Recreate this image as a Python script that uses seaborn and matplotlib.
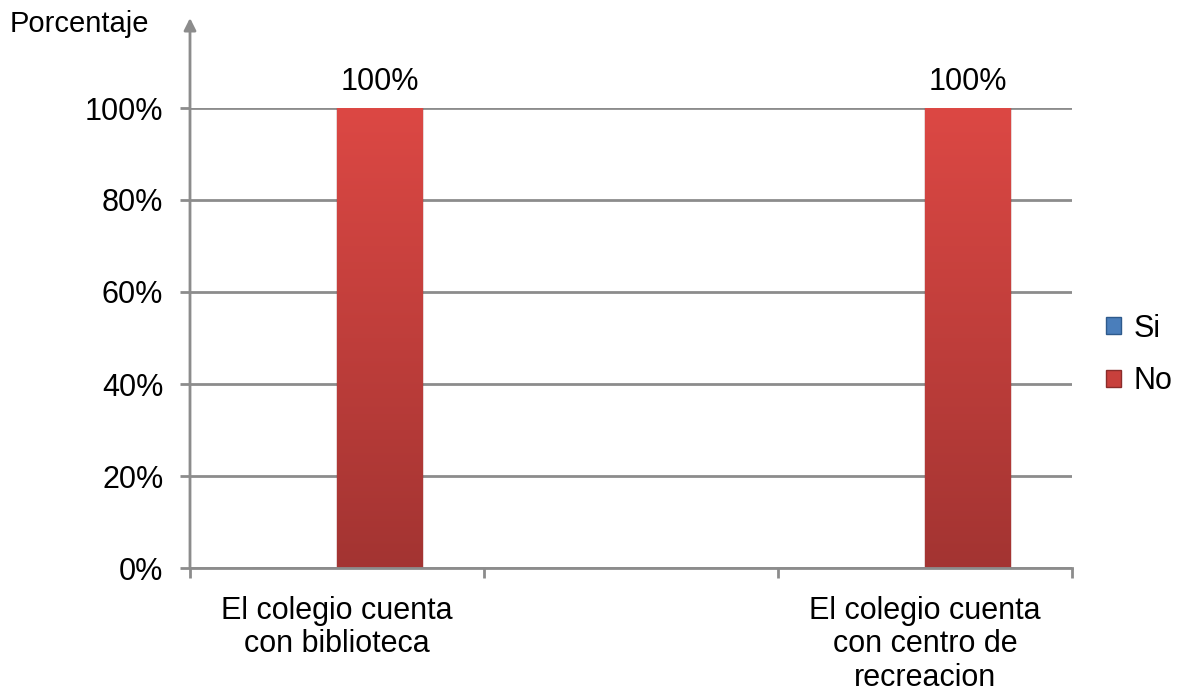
import numpy as np
import pandas as pd
import matplotlib
matplotlib.use("Agg")
import matplotlib.pyplot as plt
import seaborn as sns
from matplotlib.colors import LinearSegmentedColormap

# ---- data ----
categories = ["El colegio cuenta\ncon biblioteca", " ", "El colegio cuenta\ncon centro de\nrecreacion"]
series = ["Si", "No"]
si_values = [0, np.nan, 0]
no_values = [100, np.nan, 100]
yticks = [0, 20, 40, 60, 80, 100]
ytick_labels = ["0%", "20%", "40%", "60%", "80%", "100%"]

sns.set_theme(style="white")
plt.rcParams['font.family'] = ['Liberation Sans', 'DejaVu Sans']
plt.rcParams['text.color'] = 'black'
plt.rcParams['xtick.labelcolor'] = 'black'
plt.rcParams['ytick.labelcolor'] = 'black'

df = pd.DataFrame({
    "cat": categories * 2,
    "serie": ["Si"] * len(categories) + ["No"] * len(categories),
    "val": si_values + no_values,
})

W, H = 1185, 697
fig = plt.figure(figsize=(W / 100, H / 100), dpi=100)
ax = fig.add_axes([190 / W, 1 - 568 / H, (1072 - 190) / W, 460 / H])

GRAY = "#8C8C8C"
sns.barplot(data=df, x="cat", y="val", hue="serie", order=categories,
            hue_order=series, palette=["#4A7EBB", "#C8403C"], width=0.58,
            saturation=1, errorbar=None, ax=ax, legend=True, linewidth=1)

edge_colors = ["#2E5A8C", "#8A2C2A"]
for cont, ec in zip(ax.containers, edge_colors):
    for p in cont:
        p.set_edgecolor(ec)

ax.set_xlim(-0.5, len(categories) - 0.5)
ax.set_ylim(0, 100)
ax.set_axisbelow(True)

# gradient fill on bars
cmap_red = LinearSegmentedColormap.from_list("r", ["#A33432", "#DC4844"])
grad = np.linspace(0, 1, 256).reshape(-1, 1)
for p in ax.containers[1]:
    h = p.get_height()
    if h and h > 0:
        x0, w = p.get_x(), p.get_width()
        im = ax.imshow(grad, extent=[x0, x0 + w, 0, h], origin="lower",
                       cmap=cmap_red, aspect="auto", zorder=p.get_zorder() + 0.1)
        im.set_clip_path(p)
ax.set_xlim(-0.5, len(categories) - 0.5)
ax.set_ylim(0, 100)

ax.bar_label(ax.containers[1], fmt="%.0f%%", padding=8, fontsize=22, color="black")

# y axis
ax.set_yticks(yticks)
ax.set_yticklabels(ytick_labels, fontsize=22)
ax.yaxis.grid(True, color=GRAY, lw=2)
ax.tick_params(axis="y", left=True, length=7.2, width=2, color=GRAY, pad=12)

# x axis
ax.set_xticks(range(len(categories)))
ax.set_xticklabels(categories, fontsize=22, linespacing=1.15)
ax.set_xticks([i - 0.5 for i in range(len(categories) + 1)], minor=True)
ax.tick_params(axis="x", which="major", length=0, pad=20)
ax.tick_params(axis="x", which="minor", bottom=True, length=7.2, width=2, color=GRAY)
ax.set_xlabel("")
ax.set_ylabel("")

for s in ["top", "right", "left"]:
    ax.spines[s].set_visible(False)
ax.spines["bottom"].set_color(GRAY)
ax.spines["bottom"].set_linewidth(2)

# y-axis arrow
ax.annotate("", xy=(0, (568 - 18) / 460), xycoords="axes fraction",
            xytext=(0, 0), textcoords="axes fraction",
            arrowprops=dict(arrowstyle="-|>", color=GRAY, lw=2,
                            mutation_scale=18, shrinkA=0, shrinkB=0),
            annotation_clip=False)

fig.text(10 / W, 1 - 24 / H, "Porcentaje", ha="left", va="center", fontsize=21)

handles, labels = ax.get_legend_handles_labels()
for hnd, ec in zip(handles, edge_colors):
    hnd.set_edgecolor(ec)
ax.legend(handles, labels, loc="center left",
          bbox_to_anchor=(1106 / W, 1 - 355 / H), bbox_transform=fig.transFigure,
          frameon=False, fontsize=22, handlelength=0.5, handleheight=0.5,
          handletextpad=0.4, labelspacing=0.75, borderaxespad=0, borderpad=0)

fig.savefig("out.png", dpi=100)
